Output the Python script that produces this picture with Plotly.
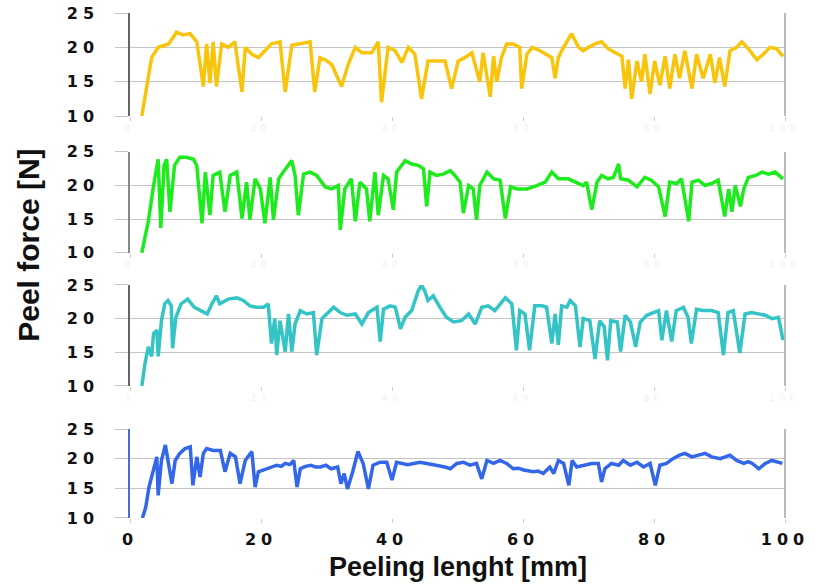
import plotly.graph_objects as go

# ---------------- data ----------------
x_yellow = [1.8, 2.8, 3.3, 4.3, 5.9, 7.1, 8.1, 9.2, 10.2, 11.2, 11.7, 12.2, 12.7, 13.2, 14.0, 15.0, 16.0, 17.1, 17.6,
            18.6, 19.6, 20.6, 21.6, 22.9, 23.7, 24.7, 25.7, 27.5, 28.2, 29.0, 29.8, 30.8, 32.3, 33.3, 34.4, 35.4, 36.9,
            37.9, 38.4, 39.4, 40.5, 41.5, 42.5, 43.5, 44.5, 45.5, 46.6, 48.1, 49.1, 50.1, 51.1, 52.2, 53.4, 53.9, 55.0,
            55.5, 56.0, 56.7, 57.5, 58.5, 59.5, 59.8, 60.6, 61.4, 62.6, 63.4, 64.4, 64.9, 65.4, 65.9, 66.7, 67.4, 68.5,
            69.2, 70.0, 71.0, 72.0, 73.0, 74.1, 75.1, 75.6, 76.1, 76.6, 77.4, 78.1, 78.6, 79.4, 80.1, 80.9, 81.7, 82.4,
            83.2, 83.9, 84.7, 85.8, 86.5, 87.5, 88.6, 89.3, 90.0, 90.8, 91.6, 92.6, 93.4, 94.4, 95.7, 96.7, 97.7, 98.7,
            99.7]
y_yellow = [10.0, 16.0, 18.5, 20.0, 20.5, 22.2, 21.8, 22.0, 20.8, 14.3, 20.5, 14.8, 20.8, 14.3, 20.5, 20.0, 20.8, 13.5,
            20.0, 19.0, 18.5, 19.5, 20.5, 20.8, 13.5, 20.3, 20.5, 20.8, 13.5, 18.5, 18.2, 17.5, 14.3, 17.5, 20.0, 19.2,
            19.2, 20.8, 12.0, 20.0, 19.5, 17.8, 20.0, 19.0, 12.5, 18.0, 18.0, 18.0, 14.0, 18.0, 18.5, 19.2, 15.0, 19.2,
            12.8, 18.7, 15.0, 18.5, 20.5, 20.5, 20.0, 14.0, 19.0, 20.0, 19.5, 19.0, 18.5, 15.5, 18.5, 19.5, 20.8, 22.0,
            20.0, 19.5, 20.0, 20.5, 20.8, 19.8, 19.2, 18.7, 14.0, 18.2, 12.5, 18.0, 15.0, 19.0, 13.2, 18.0, 14.5, 18.7,
            14.0, 19.0, 15.5, 19.5, 14.0, 19.0, 15.5, 19.0, 14.8, 18.5, 14.3, 19.5, 20.0, 20.8, 19.8, 18.2, 19.0, 20.0,
            19.8, 18.7]

x_green = [1.8, 2.8, 3.6, 4.3, 4.7, 5.2, 5.6, 6.1, 6.8, 7.6, 8.6, 9.7, 10.2, 11.0, 11.5, 12.2, 12.7, 13.7, 14.5, 15.3,
           16.3, 17.1, 17.8, 18.3, 19.1, 19.9, 20.6, 21.4, 21.9, 22.7, 23.4, 24.2, 24.7, 25.2, 25.7, 26.5, 27.5, 28.5,
           29.8, 30.8, 31.8, 32.1, 32.8, 33.8, 34.4, 35.1, 36.1, 36.6, 37.4, 37.9, 38.7, 39.4, 40.2, 40.7, 42.0, 43.0,
           44.0, 44.8, 45.3, 45.8, 46.8, 47.8, 48.9, 49.6, 50.4, 50.9, 51.7, 52.4, 52.9, 53.4, 54.5, 55.5, 56.5, 57.3,
           58.1, 59.1, 60.6, 62.1, 63.4, 64.4, 65.4, 66.9, 68.2, 69.2, 69.7, 70.5, 71.3, 72.0, 73.0, 73.8, 74.6, 74.9,
           76.1, 77.4, 78.6, 79.6, 80.7, 81.7, 82.4, 83.5, 84.2, 85.3, 85.8, 86.8, 87.8, 88.8, 89.8, 90.8, 91.4, 91.9,
           92.4, 93.2, 93.7, 94.4, 95.5, 96.5, 97.5, 98.5, 99.7]
y_green = [10.0, 14.7, 20.0, 23.9, 13.7, 23.0, 23.9, 16.1, 23.0, 24.2, 24.2, 23.9, 22.9, 14.4, 22.0, 15.6, 21.5, 22.0,
           16.1, 21.5, 22.0, 15.1, 20.5, 14.9, 21.0, 19.5, 14.4, 21.2, 14.9, 21.0, 22.0, 23.0, 23.7, 21.5, 15.6, 21.7,
           22.0, 21.5, 19.8, 19.5, 20.0, 13.4, 19.5, 21.0, 14.7, 20.5, 19.5, 14.7, 22.0, 15.6, 21.5, 21.0, 16.4, 22.0,
           23.7, 23.2, 23.0, 22.5, 16.9, 22.0, 21.5, 21.7, 22.2, 21.5, 20.5, 15.9, 20.0, 19.5, 14.9, 20.0, 22.0, 21.0,
           20.8, 15.1, 19.8, 19.5, 19.5, 20.0, 20.5, 22.0, 21.0, 21.0, 20.5, 20.0, 20.5, 16.4, 20.5, 21.5, 21.0, 21.2,
           23.2, 21.0, 20.8, 19.8, 21.2, 20.8, 19.8, 15.4, 20.5, 20.3, 21.0, 14.7, 20.5, 20.8, 20.0, 20.3, 20.8, 15.4,
           19.5, 16.1, 20.0, 16.9, 19.5, 21.2, 21.5, 22.0, 21.7, 22.0, 21.0]

x_cyan = [1.8, 2.3, 2.8, 3.3, 3.6, 4.1, 4.3, 4.8, 5.3, 5.8, 6.3, 6.5, 7.0, 7.8, 8.8, 9.8, 10.8, 11.8, 12.5, 13.2, 13.7,
          15.0, 16.3, 17.3, 18.3, 19.3, 20.4, 21.1, 21.6, 22.1, 22.4, 22.9, 23.7, 24.2, 24.7, 25.2, 26.0, 27.0, 28.0,
          28.5, 29.3, 30.3, 31.1, 32.1, 33.1, 34.4, 35.4, 36.4, 37.2, 37.7, 38.2, 38.7, 39.7, 40.5, 41.3, 42.0, 43.0,
          44.0, 44.5, 45.0, 45.5, 46.3, 47.3, 48.3, 49.4, 50.6, 51.7, 52.7, 53.7, 54.7, 55.7, 56.5, 57.3, 58.3, 59.0,
          59.5, 60.3, 61.0, 61.8, 62.9, 63.6, 64.4, 64.9, 65.4, 65.9, 66.7, 67.2, 68.0, 68.7, 69.2, 70.2, 71.0, 71.7,
          72.4, 72.9, 73.4, 74.4, 74.9, 75.6, 76.4, 77.2, 77.9, 78.9, 79.9, 80.7, 81.2, 81.9, 82.7, 83.4, 84.5, 85.2,
          85.7, 86.5, 87.5, 88.8, 89.8, 90.6, 91.3, 92.1, 93.1, 93.9, 94.9, 96.0, 97.0, 98.0, 99.0, 99.7]
y_cyan = [10.0, 13.4, 15.8, 14.4, 17.8, 18.3, 14.4, 19.7, 22.2, 22.7, 21.9, 15.6, 20.2, 22.2, 22.9, 21.7, 21.2, 20.7,
          22.2, 23.4, 22.2, 22.9, 23.1, 22.7, 21.9, 21.7, 21.7, 22.2, 16.3, 20.0, 14.6, 19.7, 15.1, 20.7, 15.1, 19.2,
          21.2, 20.7, 20.9, 14.6, 20.0, 20.9, 21.7, 20.9, 20.5, 20.7, 19.2, 20.9, 21.4, 21.7, 16.6, 21.4, 21.9, 21.7,
          18.5, 20.2, 21.2, 24.1, 25.0, 24.1, 22.7, 23.4, 21.7, 20.2, 19.5, 19.7, 20.7, 19.2, 21.7, 21.9, 21.2, 22.2,
          23.1, 22.2, 15.3, 21.2, 20.7, 15.3, 21.9, 21.9, 21.7, 16.3, 20.7, 16.1, 21.9, 21.7, 22.7, 21.9, 15.8, 20.0,
          19.7, 14.0, 19.7, 18.8, 13.8, 19.7, 19.5, 15.1, 20.5, 19.5, 15.8, 19.5, 20.5, 20.9, 21.2, 16.8, 21.2, 16.6,
          21.2, 21.7, 20.2, 16.3, 21.4, 21.2, 21.2, 20.9, 14.6, 20.9, 21.2, 14.9, 20.7, 20.9, 20.7, 20.5, 20.0, 20.2,
          16.8]

x_blue = [1.9, 2.4, 2.9, 3.6, 4.1, 4.3, 4.8, 5.4, 5.9, 6.4, 6.9, 7.6, 8.4, 9.2, 9.6, 10.2, 10.7, 11.2, 11.7, 12.7, 13.8,
          14.5, 15.3, 16.1, 16.8, 17.6, 18.6, 19.1, 19.6, 20.9, 21.6, 22.4, 23.1, 23.7, 24.4, 25.0, 25.5, 26.0, 26.8,
          27.6, 28.3, 29.1, 29.9, 30.7, 31.7, 32.2, 32.7, 33.2, 34.0, 34.8, 35.6, 36.4, 37.1, 38.2, 39.2, 40.0, 40.7,
          41.5, 42.4, 43.3, 44.3, 45.3, 46.3, 47.3, 48.1, 48.9, 49.9, 50.9, 51.9, 52.9, 53.7, 54.5, 55.5, 56.5, 57.5,
          58.5, 59.3, 60.1, 60.8, 61.6, 62.3, 63.1, 64.1, 64.7, 65.4, 66.2, 67.0, 67.5, 68.2, 69.2, 70.5, 71.5, 72.0,
          72.5, 73.5, 74.6, 75.3, 76.4, 77.4, 78.4, 79.4, 80.2, 80.9, 81.9, 82.9, 83.9, 84.7, 85.8, 86.8, 87.8, 88.8,
          90.1, 91.6, 92.6, 93.7, 94.4, 95.0, 96.0, 97.0, 98.0, 99.6]
y_blue = [10.0, 11.8, 15.2, 18.0, 20.3, 13.8, 19.7, 22.3, 18.6, 15.8, 19.7, 20.9, 21.7, 22.0, 15.5, 20.3, 16.9, 20.9,
          21.7, 21.4, 21.4, 17.8, 20.9, 20.3, 15.8, 19.7, 21.2, 15.2, 17.8, 18.3, 18.5, 18.9, 18.7, 19.2, 19.0, 19.7,
          15.2, 18.3, 18.7, 18.9, 18.6, 18.6, 18.9, 18.3, 18.6, 15.8, 17.5, 14.9, 17.8, 21.2, 19.2, 14.9, 18.9, 19.4,
          19.4, 16.4, 19.4, 19.2, 19.0, 19.2, 19.4, 19.2, 19.0, 18.9, 18.6, 18.3, 19.2, 19.4, 18.9, 19.2, 16.6, 19.7,
          19.2, 19.7, 19.2, 18.3, 18.4, 18.1, 17.9, 17.8, 17.9, 17.5, 18.6, 17.5, 19.7, 19.2, 15.5, 19.7, 18.6, 18.9,
          19.2, 19.2, 16.1, 18.3, 19.2, 18.9, 19.7, 18.9, 19.4, 18.6, 19.2, 15.5, 18.9, 19.2, 20.0, 20.6, 20.9, 20.3,
          20.6, 20.9, 20.3, 20.0, 20.6, 19.7, 19.2, 19.5, 19.2, 18.3, 19.2, 19.7, 19.2]

y_ticks = [10, 15, 20, 25]
x_ticks = [0, 20, 40, 60, 80, 100]
x_title = "Peeling lenght [mm]"
y_title = "Peel force [N]"

series = [
    (x_yellow, y_yellow, "#F8C40C"),
    (x_green, y_green, "#1EEB1E"),
    (x_cyan, y_cyan, "#35C4C6"),
    (x_blue, y_blue, "#3366E8"),
]
domains = [[0.796, 1.0], [0.525, 0.725], [0.2614, 0.4614], [0.0, 0.1762]]
axis_line_colors = ["#666666", "#888888", "#666666", "#4a6ad8"]

TICKFONT = dict(family="DejaVu Sans", size=16, color="#111111", weight="bold")


def spaced(v):
    return '<span style="letter-spacing:5px">%s</span>' % v


fig = go.Figure()
layout = dict(
    width=815, height=587,
    margin=dict(l=130, r=30, t=13, b=69),
    paper_bgcolor="white", plot_bgcolor="white",
    showlegend=False,
)

for i, (xs, ys, col) in enumerate(series):
    n = "" if i == 0 else str(i + 1)
    fig.add_trace(go.Scatter(x=xs, y=ys, mode="lines", xaxis="x" + n, yaxis="y" + n,
                             line=dict(color=col, width=3.5), hoverinfo="skip"))
    last = i == 3
    layout["xaxis" + n] = dict(
        domain=[0, 1], anchor="y" + n, range=[0, 100], showgrid=False, zeroline=False,
        tickvals=x_ticks, ticktext=[spaced(t) for t in x_ticks],
        ticks="outside", ticklen=4, tickcolor="#cccccc",
        showline=False, automargin=False, ticklabeloverflow="allow",
        tickfont=TICKFONT if last else dict(family="DejaVu Sans", size=8, color="#f0f0f0"),
        ticklabelstandoff=3 if last else 0,
    )
    layout["yaxis" + n] = dict(
        domain=domains[i], anchor="x" + n, range=[10, 25],
        tickvals=y_ticks, ticktext=[spaced(t) for t in y_ticks],
        showgrid=True, gridcolor="#c4c4c4", gridwidth=1, zeroline=False,
        showline=True, linecolor=axis_line_colors[i], linewidth=1.5,
        ticks="outside", ticklen=13, tickcolor="#c4c4c4", automargin=False,
        ticklabeloverflow="allow",
        tickfont=TICKFONT, ticklabelstandoff=13,
    )
    # light frame on the right side of each panel
    fig.add_shape(type="line", xref="x%s domain" % n, yref="y%s domain" % n,
                  x0=1, x1=1, y0=0, y1=1, line=dict(color="#bbbbbb", width=2))

fig.update_layout(**layout)

fig.add_annotation(text="<b>%s</b>" % y_title, xref="paper", yref="paper", x=-0.155, y=0.54,
                   xanchor="center", yanchor="middle",
                   textangle=-90, showarrow=False,
                   font=dict(family="Liberation Sans", size=30, color="#111111"))
fig.add_annotation(text="<b>%s</b>" % x_title, xref="paper", yref="paper", x=0.5, y=-0.097,
                   xanchor="center", yanchor="middle", showarrow=False,
                   font=dict(family="Liberation Sans", size=27, color="#111111"))

fig.write_html("out.html", config={"displayModeBar": False},
               post_script="document.body.style.margin='0px';")
